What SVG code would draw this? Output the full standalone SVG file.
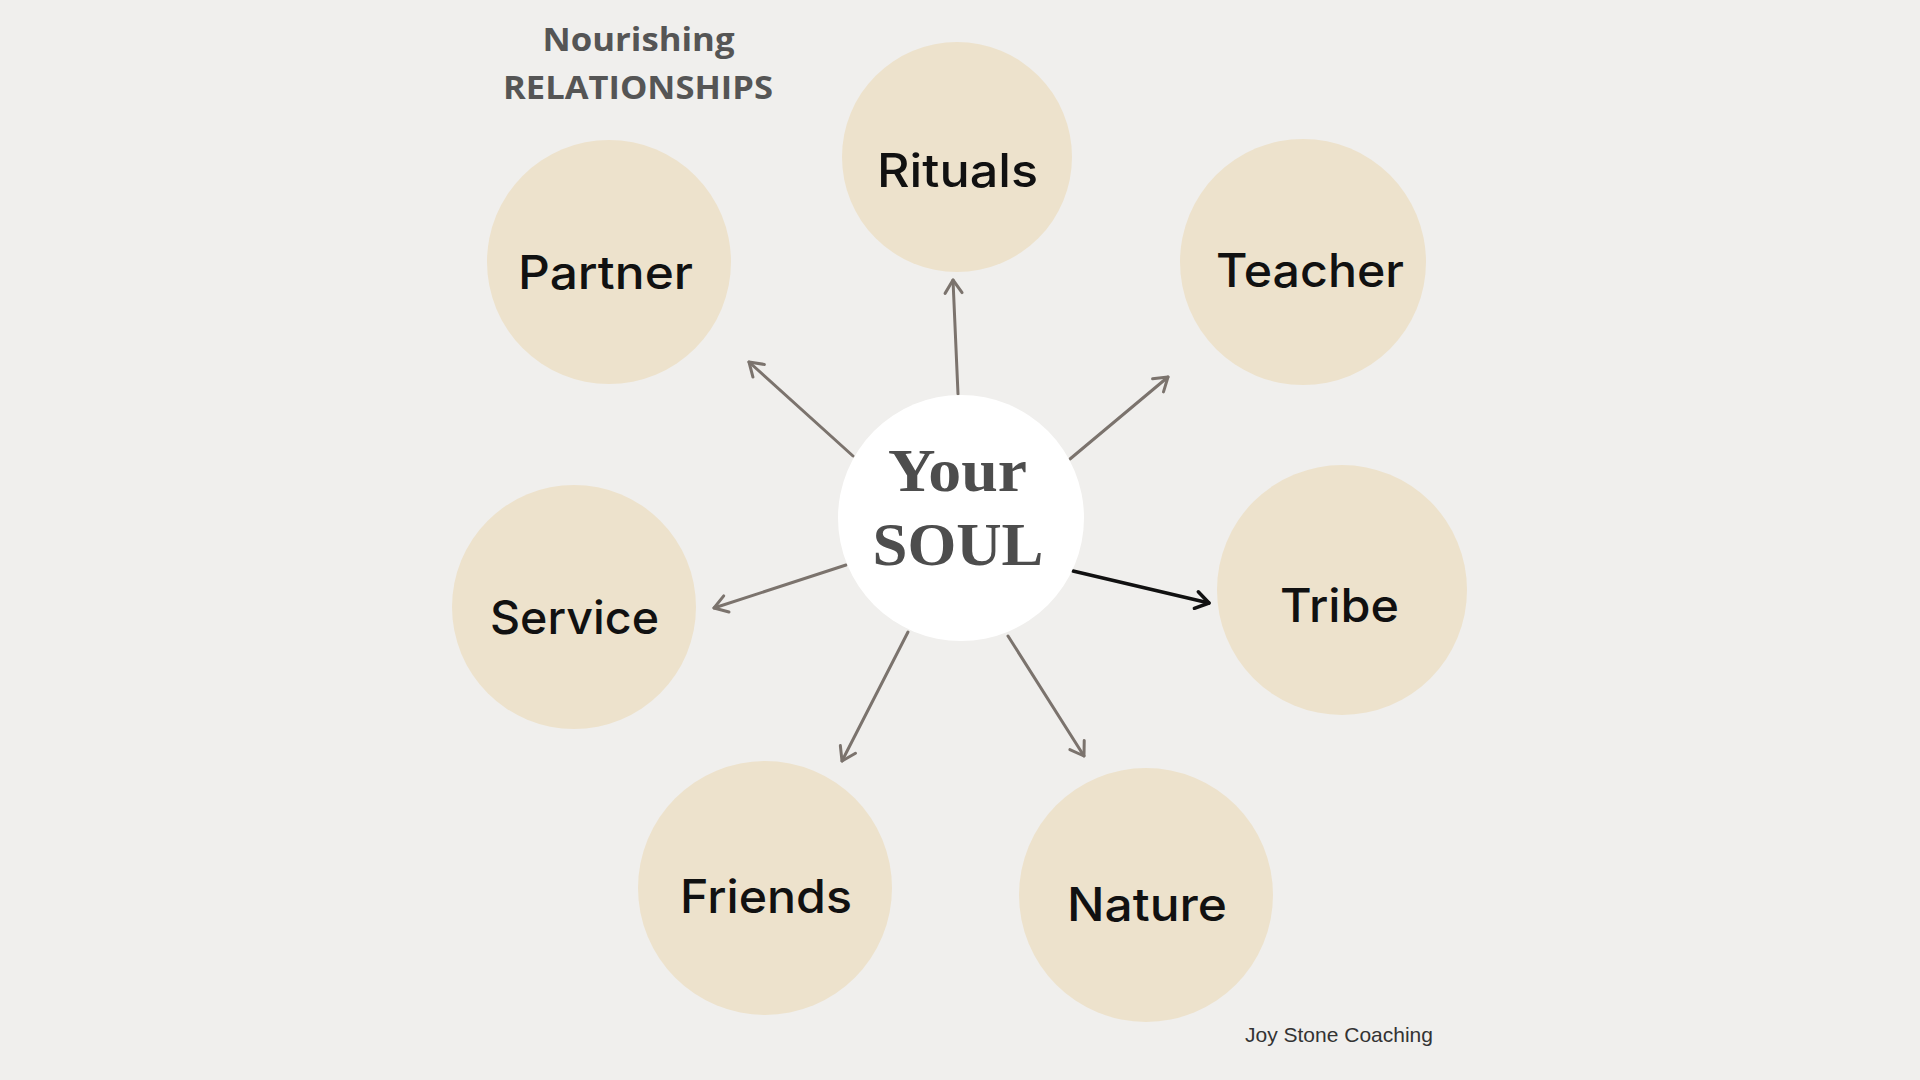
<svg xmlns="http://www.w3.org/2000/svg" width="1920" height="1080" viewBox="0 0 1920 1080">
  <style>
    .bubble { fill: #ede2cc; }
    .soul { fill: #ffffff; }
    .label { font-family: Inter, "DejaVu Sans", sans-serif; font-weight: 550; font-size: 46px; fill: #111111; text-anchor: middle; }
    .soulText { font-family: "Liberation Serif", serif; font-weight: bold; font-size: 62px; fill: #4d4d4d; text-anchor: middle; }
    .title { font-family: "Open Sans", "Liberation Sans", sans-serif; font-weight: bold; font-size: 33px; fill: #555555; text-anchor: middle; }
    .credit { font-family: "Liberation Sans", Arial, sans-serif; font-size: 21px; fill: #333333; }
    .conn { stroke: #7b736d; stroke-width: 3; fill: none; stroke-linecap: round; }
    .connDark { stroke: #111111; stroke-width: 3.5; fill: none; stroke-linecap: round; }
  </style>
  <defs>
    <marker id="arrowGray" markerUnits="userSpaceOnUse" markerWidth="30" markerHeight="30" refX="15" refY="15" orient="auto" viewBox="0 0 30 30" overflow="visible">
      <path d="M2,6.5 L15,15 L2,23.5" fill="none" stroke="#7b736d" stroke-width="3" stroke-linecap="round" stroke-linejoin="round"/>
    </marker>
    <marker id="arrowDark" markerUnits="userSpaceOnUse" markerWidth="30" markerHeight="30" refX="15" refY="15" orient="auto" viewBox="0 0 30 30" overflow="visible">
      <path d="M2,6.5 L15,15 L2,23.5" fill="none" stroke="#111111" stroke-width="3.5" stroke-linecap="round" stroke-linejoin="round"/>
    </marker>
  </defs>

  <rect x="0" y="0" width="1920" height="1080" fill="#f0efed"/>

  <g id="title">
    <text class="title" x="638.5" y="51" textLength="192" lengthAdjust="spacingAndGlyphs">Nourishing</text>
    <text class="title" x="638" y="99" textLength="270" lengthAdjust="spacingAndGlyphs">RELATIONSHIPS</text>
  </g>

  <g id="connectors">
    <line class="conn" x1="958" y1="394" x2="953" y2="280" marker-end="url(#arrowGray)"/>
    <line class="conn" x1="1070" y1="459" x2="1168" y2="377" marker-end="url(#arrowGray)"/>
    <line class="connDark" x1="1073" y1="571" x2="1209" y2="603" marker-end="url(#arrowDark)"/>
    <line class="conn" x1="1008" y1="636" x2="1084" y2="756" marker-end="url(#arrowGray)"/>
    <line class="conn" x1="908" y1="632" x2="842" y2="761" marker-end="url(#arrowGray)"/>
    <line class="conn" x1="846" y1="565" x2="714" y2="608" marker-end="url(#arrowGray)"/>
    <line class="conn" x1="853" y1="456" x2="749" y2="362" marker-end="url(#arrowGray)"/>
  </g>

  <g id="node-soul">
    <circle class="soul" cx="961" cy="518" r="123"/>
    <text class="soulText" x="957.5" y="491" textLength="139" lengthAdjust="spacingAndGlyphs">Your</text>
    <text class="soulText" x="958" y="565" textLength="171" lengthAdjust="spacingAndGlyphs">SOUL</text>
  </g>

  <g id="node-rituals">
    <circle class="bubble" cx="957" cy="157" r="115"/>
    <text class="label" x="957.5" y="187" textLength="161" lengthAdjust="spacingAndGlyphs">Rituals</text>
  </g>

  <g id="node-teacher">
    <circle class="bubble" cx="1303" cy="262" r="123"/>
    <text class="label" x="1310" y="287" textLength="188" lengthAdjust="spacingAndGlyphs">Teacher</text>
  </g>

  <g id="node-tribe">
    <circle class="bubble" cx="1342" cy="590" r="125"/>
    <text class="label" x="1339.5" y="622" textLength="119" lengthAdjust="spacingAndGlyphs">Tribe</text>
  </g>

  <g id="node-nature">
    <circle class="bubble" cx="1146" cy="895" r="127"/>
    <text class="label" x="1147" y="921" textLength="160" lengthAdjust="spacingAndGlyphs">Nature</text>
  </g>

  <g id="node-friends">
    <circle class="bubble" cx="765" cy="888" r="127"/>
    <text class="label" x="766" y="913" textLength="172" lengthAdjust="spacingAndGlyphs">Friends</text>
  </g>

  <g id="node-service">
    <circle class="bubble" cx="574" cy="607" r="122"/>
    <text class="label" x="574.5" y="634" textLength="169" lengthAdjust="spacingAndGlyphs">Service</text>
  </g>

  <g id="node-partner">
    <circle class="bubble" cx="609" cy="262" r="122"/>
    <text class="label" x="605.5" y="289" textLength="175" lengthAdjust="spacingAndGlyphs">Partner</text>
  </g>

  <g id="credit">
    <text class="credit" x="1245" y="1042">Joy Stone Coaching</text>
  </g>
</svg>
